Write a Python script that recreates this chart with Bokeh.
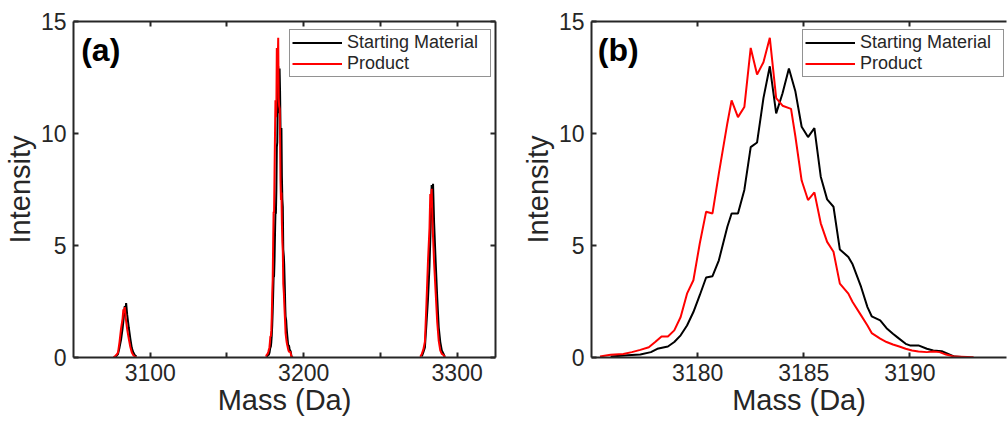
import numpy as np
from bokeh.plotting import figure
from bokeh.models import (Range1d, LinearAxis, FixedTicker, Legend, LegendItem,
                          Label, CustomJSTickFormatter)
from bokeh.layouts import row
from bokeh.embed import file_html
from bokeh.resources import INLINE

# ---------------- data ----------------
# Zoomed central peak (panel b)
sm_mass = [3175.9, 3176.7, 3177.3, 3177.8, 3178.1, 3178.6, 3178.9, 3179.2, 3179.5, 3179.8,
           3180.1, 3180.4, 3180.7, 3181.0, 3181.4, 3181.6, 3181.9, 3182.2, 3182.5, 3182.8,
           3183.1, 3183.4, 3183.7, 3184.0, 3184.3, 3184.6, 3184.9, 3185.2, 3185.5, 3185.8,
           3186.1, 3186.4, 3186.7, 3187.1, 3187.3, 3187.7, 3188.0, 3188.2, 3188.6, 3188.9,
           3189.2, 3189.4, 3189.8, 3190.0, 3190.4, 3190.8, 3191.1, 3191.5, 3191.8, 3192.1,
           3192.6]
sm_int = [0.04, 0.1, 0.13, 0.24, 0.39, 0.49, 0.69, 0.99, 1.43, 2.03,
          2.78, 3.57, 3.63, 4.34, 5.84, 6.43, 6.43, 7.48, 9.39, 9.6,
          11.58, 13.0, 10.9, 11.8, 12.9, 11.9, 10.3, 9.84, 10.24, 8.07,
          7.06, 6.73, 4.82, 4.49, 4.16, 3.15, 2.25, 1.84, 1.66, 1.31,
          1.06, 0.91, 0.61, 0.54, 0.54, 0.39, 0.31, 0.28, 0.16, 0.04,
          0.01]
pr_mass = [3175.4, 3175.9, 3176.5, 3176.9, 3177.3, 3177.7, 3178.0, 3178.3, 3178.6, 3178.9,
           3179.2, 3179.5, 3179.8, 3180.1, 3180.4, 3180.7, 3181.0, 3181.4, 3181.6, 3181.9,
           3182.2, 3182.5, 3182.8, 3183.1, 3183.4, 3183.7, 3184.0, 3184.4, 3184.6, 3184.9,
           3185.2, 3185.5, 3185.8, 3186.1, 3186.4, 3186.7, 3187.1, 3187.3, 3187.7, 3188.0,
           3188.2, 3188.6, 3188.9, 3189.2, 3189.5, 3189.8, 3190.1, 3190.4, 3190.8, 3191.1,
           3191.4, 3191.7, 3192.1, 3193.0]
pr_int = [0.04, 0.12, 0.16, 0.24, 0.34, 0.46, 0.69, 0.94, 0.94, 1.21,
          1.81, 2.85, 3.45, 5.09, 6.51, 6.43, 8.22, 10.46, 11.48, 10.73,
          11.18, 13.82, 12.63, 13.18, 14.27, 11.58, 11.24, 11.1, 9.9, 7.9,
          7.03, 7.37, 5.99, 5.16, 4.72, 3.30, 2.85, 2.48, 1.88, 1.43,
          1.09, 0.84, 0.69, 0.58, 0.49, 0.39, 0.31, 0.27, 0.24, 0.27,
          0.24, 0.13, 0.04, 0.01]

# Side peaks (panel a)
sm_p1_mass = [3077, 3078, 3079, 3080, 3081, 3082, 3083, 3083.4, 3083.8, 3084.3, 3085, 3086,
              3087, 3088, 3089, 3090, 3091]
sm_p1_int = [0.03, 0.07, 0.15, 0.45, 0.8, 1.3, 1.95, 2.3, 2.1, 2.43, 1.9, 1.35,
             0.85, 0.42, 0.22, 0.1, 0.04]
pr_p1_mass = [3076, 3077, 3078, 3079, 3080, 3081, 3082, 3082.5, 3082.9, 3083.4, 3084, 3085,
              3086, 3087, 3088, 3089, 3090, 3091]
pr_p1_int = [0.02, 0.05, 0.12, 0.22, 0.7, 1.3, 1.75, 2.15, 2.0, 2.25, 1.78, 1.25,
             0.85, 0.48, 0.22, 0.1, 0.04, 0.02]
sm_p3_mass = [3277, 3278, 3279, 3280, 3281, 3282, 3283, 3283.4, 3283.7, 3284.3, 3285, 3286,
              3287, 3288, 3289, 3290, 3291, 3292]
sm_p3_int = [0.05, 0.24, 0.45, 1.5, 2.6, 4.1, 6.4, 7.7, 6.5, 7.75, 6.0, 4.3,
             2.7, 1.35, 0.7, 0.32, 0.18, 0.03]
pr_p3_mass = [3276, 3277, 3278, 3279, 3280, 3281, 3282, 3282.5, 3282.8, 3283.4, 3284, 3285,
              3286, 3287, 3288, 3289, 3290, 3291, 3292]
pr_p3_int = [0.03, 0.16, 0.36, 0.7, 2.4, 4.3, 5.8, 7.3, 6.7, 7.53, 5.9, 4.2,
             2.9, 1.6, 0.74, 0.32, 0.16, 0.12, 0.03]

series_names = ["Starting Material", "Product"]
series_colors = ["#000000", "#FF0000"]
y_ticks = [0, 5, 10, 15]
a_major_ticks = [3100, 3200, 3300]
a_minor_ticks = [3150, 3250]
b_major_ticks = [3180, 3185, 3190]

FONT = "Liberation Sans"
AX = "#262626"


def join(*parts):
    out = []
    for i, p in enumerate(parts):
        if i:
            out.append(np.nan)
        out.extend(p)
    return np.array(out, dtype=float)


def style_axis(ax, labels=True):
    ax.axis_line_color = AX
    ax.axis_line_width = 2
    ax.major_tick_line_color = AX
    ax.major_tick_line_width = 2
    ax.minor_tick_line_color = AX
    ax.minor_tick_line_width = 2
    ax.major_tick_in = 5
    ax.major_tick_out = 0
    ax.minor_tick_in = 5
    ax.minor_tick_out = 0
    ax.major_label_text_font = FONT
    ax.major_label_text_color = AX
    ax.axis_label_text_font = FONT
    ax.axis_label_text_font_style = "normal"
    ax.axis_label_text_color = AX
    ax.axis_label_text_font_size = "29px"
    if labels:
        ax.major_label_text_font_size = "23px"
    else:
        ax.major_label_text_font_size = "0px"
        ax.major_label_standoff = 0
        ax.formatter = CustomJSTickFormatter(code="return ''")


def make_fig(width, left, x_range, major, minor, right_axis):
    p = figure(width=width, height=422, x_range=x_range, y_range=Range1d(0, 15),
               output_backend="svg", toolbar_location=None,
               min_border_left=left, min_border_right=(10 if right_axis else 1),
               min_border_top=21, min_border_bottom=65)
    p.outline_line_color = None
    p.grid.visible = False
    p.background_fill_color = "white"
    p.border_fill_color = "white"
    xt = FixedTicker(ticks=major, minor_ticks=minor)
    yt = FixedTicker(ticks=y_ticks, minor_ticks=[])
    p.xaxis.ticker = xt
    p.yaxis.ticker = yt
    style_axis(p.xaxis[0])
    style_axis(p.yaxis[0])
    p.xaxis.major_label_standoff = 6
    p.yaxis.major_label_standoff = 7
    p.xaxis.axis_label = "Mass (Da)"
    p.yaxis.axis_label = "Intensity"
    p.xaxis.axis_label_standoff = 0
    p.yaxis.axis_label_standoff = 2
    top = LinearAxis(ticker=FixedTicker(ticks=major, minor_ticks=minor))
    style_axis(top, labels=False)
    p.add_layout(top, "above")
    if right_axis:
        r = LinearAxis(ticker=FixedTicker(ticks=y_ticks, minor_ticks=[]))
        style_axis(r, labels=False)
        p.add_layout(r, "right")
    return p


# ---------------- panel (a) ----------------
pa = make_fig(505, 71, Range1d(3050, 3325), a_major_ticks, a_minor_ticks, True)
a_sm_x = join(sm_p1_mass, sm_mass, sm_p3_mass)
a_sm_y = join(sm_p1_int, sm_int, sm_p3_int)
a_pr_x = join(pr_p1_mass, pr_mass, pr_p3_mass)
a_pr_y = join(pr_p1_int, pr_int, pr_p3_int)
ra1 = pa.line(a_sm_x, a_sm_y, line_color=series_colors[0], line_width=2)
ra2 = pa.line(a_pr_x, a_pr_y, line_color=series_colors[1], line_width=2)

# ---------------- panel (b) ----------------
pb = make_fig(502, 86, Range1d(3175, 3194.55), b_major_ticks, [], False)
rb1 = pb.line(sm_mass, sm_int, line_color=series_colors[0], line_width=2)
rb2 = pb.line(pr_mass, pr_int, line_color=series_colors[1], line_width=2)


def add_legend(p, renderers, loc):
    leg = Legend(items=[LegendItem(label=n, renderers=[r]) for n, r in zip(series_names, renderers)],
                 location=loc, orientation="vertical")
    leg.label_text_font = FONT
    leg.label_text_font_size = "18px"
    leg.label_text_color = AX
    leg.glyph_width = 50
    leg.glyph_height = 19
    leg.label_height = 19
    leg.label_width = 141
    leg.label_standoff = 5
    leg.padding = 2
    leg.spacing = 0
    leg.margin = 0
    leg.border_line_color = AX
    leg.border_line_width = 1.5
    leg.background_fill_color = "white"
    leg.background_fill_alpha = 1
    p.add_layout(leg, "center")


add_legend(pa, [ra1, ra2], (216, 280))
add_legend(pb, [rb1, rb2], (211, 280))

pa.add_layout(Label(x=3055.0, y=14.55, text="(a)", text_font=FONT, text_font_size="32px",
                    text_font_style="bold", text_baseline="top", text_align="left",
                    text_color="#000000"))
pb.add_layout(Label(x=3175.3, y=14.55, text="(b)", text_font=FONT, text_font_size="32px",
                    text_font_style="bold", text_baseline="top", text_align="left",
                    text_color="#000000"))

layout = row(pa, pb, spacing=0)
open("out.html", "w").write(file_html(layout, INLINE))
